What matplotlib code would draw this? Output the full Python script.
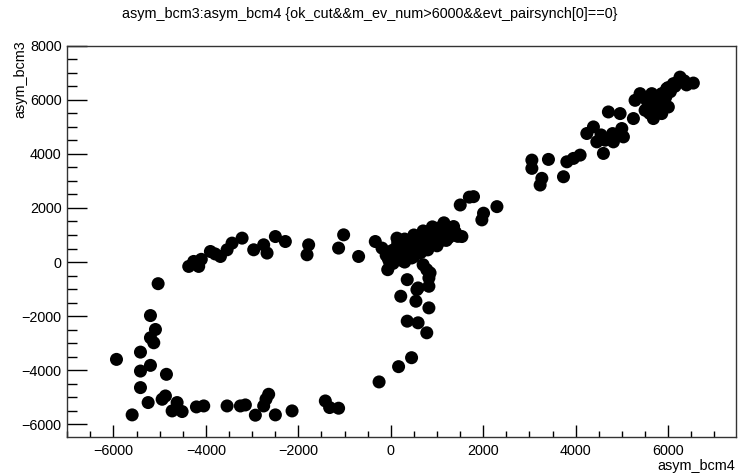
import numpy as np
import matplotlib.pyplot as plt
from matplotlib.ticker import MultipleLocator

# asym_bcm4 (x) vs asym_bcm3 (y)
upper_x = [6259, 6547, 6115, 5971, 5863, 5755, 5647, 5539, 5394, 5286, 5503, 5682, 5863, 6006,
           5898, 5250, 4962, 4709, 4999, 5034, 4817, 4638, 4458, 4385, 4242, 4601, 4097, 3953,
           3810, 3737, 3412, 3053, 3053, 3269, 3232, 6150, 6050, 5800, 5700, 6350, 5950, 5600,
           5750, 4550, 4800, 6200, 6000, 5850, 5650, 6400]
upper_y = [6838, 6618, 6595, 6411, 6227, 6102, 6227, 5980, 6227, 5980, 5612, 5306, 5490, 5733,
           5858, 5306, 5490, 5550, 4937, 4628, 4444, 4506, 4444, 4996, 4753, 4016, 3954, 3832,
           3707, 3154, 3795, 3769, 3464, 3095, 2848, 6500, 6300, 6000, 5800, 6700, 6100, 5500,
           5650, 4700, 4750, 6650, 6450, 5650, 6050, 6550]

mid_x = [1503, 1790, 1700, 2007, 1971, 2297, 1539, 1359, 1150]
mid_y = [2110, 2418, 2400, 1806, 1559, 2049, 943, 1312, 1450]

center_x = [0, 30, 60, 100, 150, 180, 220, 260, 300, 330, 380, 420, 450, 500, 540, 580, 620,
            660, 700, 740, 780, 820, 860, 900, 940, 980, 1020, 1060, 1100, 1150, 1200, 1250,
            1300, 1380, 1000, 800, 600, 400, 200, 100, 350, 500, 700, 900, 1100, -50, 50, 250,
            450, 650, 80, 120, 170, 200, 240, 280, 320, 360, 400, 440, 480, 520, 560, 600, 640,
            680, 720, 760, 800, 840, 880, 920, 960, 1040, 1080, 1120, 1180, 1220, 1280, 1340,
            1400, 1450, 300, 500, 650, 750, 850, 950, 1150, 1250, -100, 0, 150,
            300, 500, 700, 900, 800, 1000, 1200, 600, 400]
center_y = [0, 250, 450, 100, 350, 600, 200, 450, 700, 300, 550, 750, 400, 650, 850, 500, 750,
            950, 600, 850, 1050, 700, 950, 1150, 800, 1050, 1250, 900, 1150, 1000, 1200, 1050,
            1150, 1000, 950, 850, 650, 500, 350, 300, 200, 300, 450, 650, 800, 100, -50, 50,
            150, 350, 150, 500, 200, 500, 300, 600, 450, 700, 300, 600, 800, 500, 700, 900, 550,
            800, 1000, 700, 950, 1100, 850, 1050, 900, 1100, 1000, 1250, 1100, 1300, 1000, 1200,
            1100, 950, 0, 200, 450, 500, 750, 700, 850, 900, 250, 400, 700,
            850, 1000, 1150, 1300, 450, 600, 800, 350, 200]

tail_x = [356, 591, 825, 779, 825, 216, 544, 825, 356, 591, 779, 450, 169, -253, 700, 850, 566]
tail_y = [-651, -958, -896, -282, -589, -1265, -1449, -1695, -2186, -2247, -2616, -3537, -3868,
          -4433, -100, -400, -1021]

arc_x = [-4372, -4264, -4156, -3903, -3686, -3542, -3434, -3217, -2966, -2750, -2677, -2497,
         -2281, -1777, -1812, -1020, -1129, -696, -335, -190, 134, -4100, -3800, -19, -66]
arc_y = [-162, 22, -162, 390, 206, 453, 700, 884, 453, 637, 332, 943, 759, 637, 269, 1006, 516,
         206, 759, 516, 884, 100, 300, -37, -282]

loop_x = [-5034, -5200, -5092, -5200, -5128, -5935, -5416, -5200, -5416, -4854, -5416, -5250,
          -4947, -4876, -5596, -4623, -4731, -4515, -4205, -4047, -3542, -3254, -3146, -2930,
          -2750, -2642, -2497, -2136, -1416, -1323, -1129, -2700]
loop_y = [-800, -1979, -2494, -2800, -2985, -3600, -3331, -3821, -4031, -4152, -4643, -5196,
          -5074, -4952, -5652, -5196, -5505, -5528, -5357, -5321, -5321, -5321, -5284, -5663,
          -5321, -4890, -5652, -5505, -5137, -5380, -5405, -5072]

x = np.concatenate([upper_x, mid_x, center_x, tail_x, arc_x, loop_x])
y = np.concatenate([upper_y, mid_y, center_y, tail_y, arc_y, loop_y])

plt.rcParams['font.family'] = ['Liberation Sans', 'DejaVu Sans']

fig = plt.figure(figsize=(7.4, 4.75), dpi=100)
ax = fig.add_axes([0.0909, 0.0794, 0.9037, 0.8244])
ax.scatter(x, y, s=88, c='black', edgecolors='none')

ax.set_xlim(-7000, 7470)
ax.set_ylim(-6480, 8000)
ax.xaxis.set_major_locator(MultipleLocator(2000))
ax.xaxis.set_minor_locator(MultipleLocator(500))
ax.yaxis.set_major_locator(MultipleLocator(2000))
ax.yaxis.set_minor_locator(MultipleLocator(500))
ax.tick_params(axis='x', which='major', direction='in', length=8.6, width=1, labelsize=10.4, pad=5)
ax.tick_params(axis='x', which='minor', direction='in', length=4.3, width=1)
ax.tick_params(axis='y', which='major', direction='in', length=14.4, width=1, labelsize=10.4, pad=4)
ax.tick_params(axis='y', which='minor', direction='in', length=7.2, width=1)
for s in ax.spines.values():
    s.set_linewidth(1)
    s.set_color('#333333')

fig.text(0.5, 0.97, 'asym_bcm3:asym_bcm4 {ok_cut&&m_ev_num>6000&&evt_pairsynch[0]==0}',
         ha='center', va='center', fontsize=10.4)
fig.text(0.993, 0.018, 'asym_bcm4', ha='right', va='center', fontsize=10.4)
fig.text(0.027, 0.915, 'asym_bcm3', ha='center', va='top', rotation=90, fontsize=10.4)

fig.savefig('out.png', dpi=100)
